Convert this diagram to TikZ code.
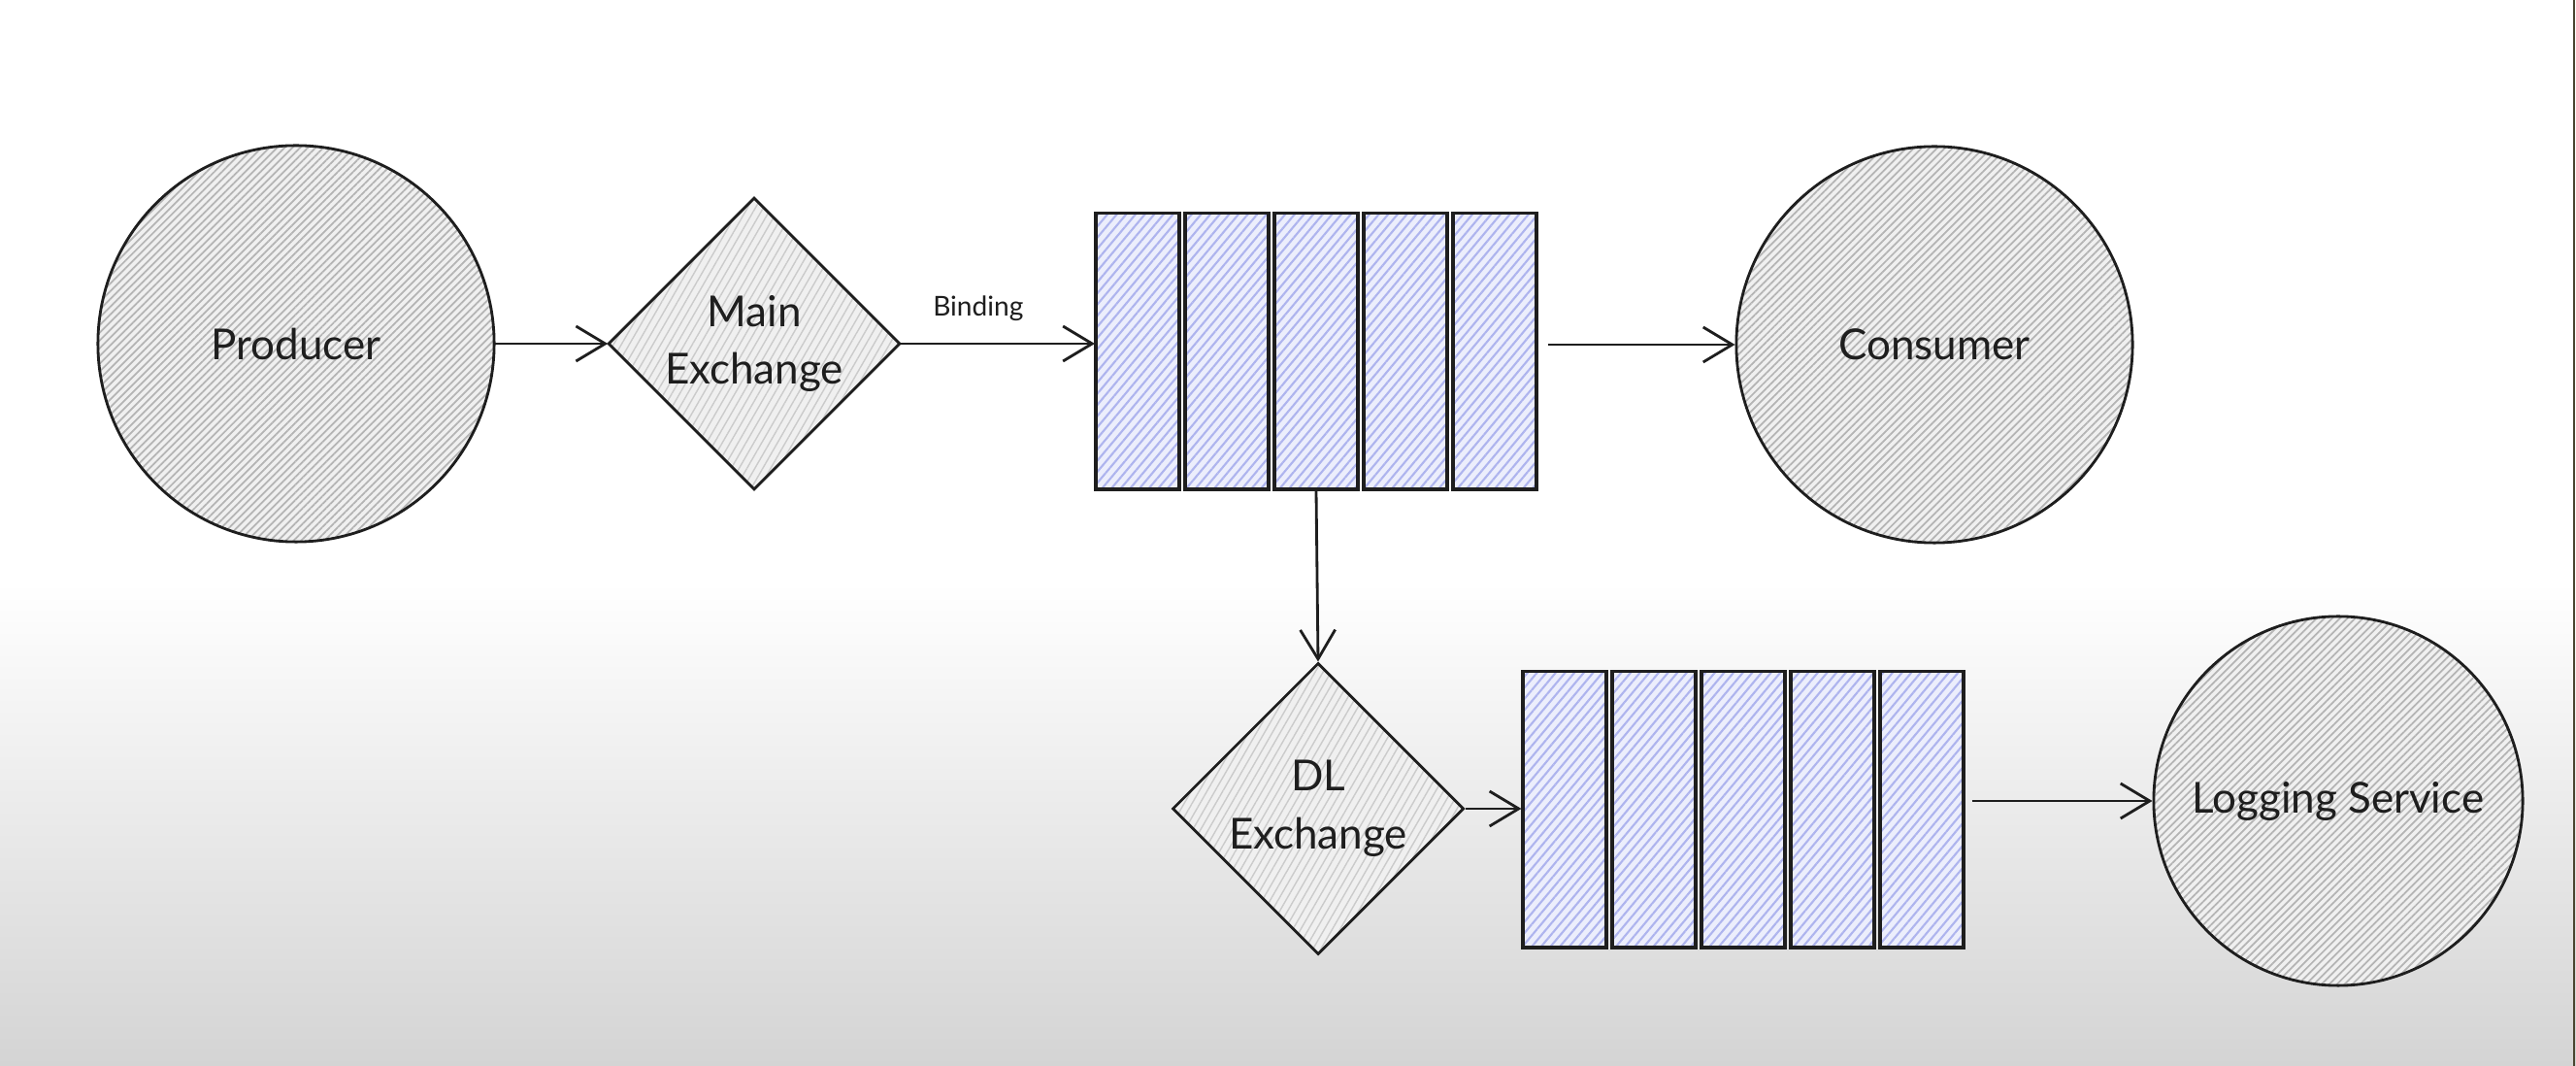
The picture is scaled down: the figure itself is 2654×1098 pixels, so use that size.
\documentclass[tikz,border=0pt]{standalone}
\usepackage{fontspec}
\setmainfont{Lato}
\usepackage{tikz}
\usetikzlibrary{arrows.meta,positioning,shapes.geometric,patterns.meta}

\definecolor{ink}{HTML}{1E1E1E}
\definecolor{circfill}{HTML}{F0F0F0}
\definecolor{circhatch}{HTML}{B4B4B4}
\definecolor{barfill}{HTML}{ECEEFC}
\definecolor{barhatch}{HTML}{AEB4EE}
\definecolor{bgbot}{HTML}{D4D4D4}
\definecolor{edgeline}{HTML}{4A4530}

\begin{document}
\begin{tikzpicture}[x=0.01cm, y=-0.01cm,
          actor/.style={circle, draw=ink, line width=0.8pt, minimum size=4.08cm, inner sep=0pt,
                        font=\fontsize{12.5}{14}\selectfont, text=ink,
                        preaction={fill=circfill},
                        pattern={Lines[angle=45, distance=1.6pt, line width=0.5pt]}, pattern color=circhatch},
          exch/.style={diamond, aspect=1, draw=ink, line width=0.8pt, minimum width=3cm, minimum height=3cm,
                       inner sep=0pt, align=center, font=\fontsize{12.5}{17}\selectfont, text=ink,
                       preaction={fill=circfill},
                       pattern={Lines[angle=60, distance=2pt, line width=0.4pt]}, pattern color=circhatch!70},
          qbar/.style={rectangle, draw=ink, line width=0.9pt, minimum width=0.86cm, minimum height=2.84cm,
                       inner sep=0pt, preaction={fill=barfill},
                       pattern={Lines[angle=50, distance=2.1pt, line width=0.6pt]}, pattern color=barhatch},
          flow/.style={ink, line width=0.8pt, -{Straight Barb[length=3mm, width=3.6mm, line width=0.8pt]}},
          lbl/.style={text=ink, font=\fontsize{8}{10}\selectfont}
        ]
          % Hintergrund
          \useasboundingbox (0,0) rectangle (2654,1098);
          \fill[white] (0,0) rectangle (2654,1098);
          \shade[top color=white, bottom color=bgbot] (0,600) rectangle (2654,1098);
          \draw[edgeline, line width=0.8pt] (2652,0) -- (2652,1098);

          % Produzent und Main Exchange
          \node[actor] (producer) at (305,354) {Producer};
          \node[exch] (mainx) at (777,354) {Main\\Exchange};

          % Queue 1
          \foreach \i in {1,...,5}
            \node[qbar] (qa\i) at ({1172+(\i-1)*92},362) {};

          % Consumer
          \node[actor] (consumer) at (1993,355) {Consumer};

          % DL Exchange und Queue 2
          \node[exch] (dlx) at (1358,833) {DL\\Exchange};
          \foreach \i in {1,...,5}
            \node[qbar] (qb\i) at ({1612+(\i-1)*92},834) {};

          % Logging
          \node[actor, minimum size=3.8cm] (logging) at (2409,825) {Logging Service};

          % Verbindungen
          \draw[flow] (producer) -- (mainx);
          \draw[flow] (mainx.east) -- node[lbl, above=3pt, pos=0.4] {Binding} (mainx.east -| qa1.west);
          \draw[flow] ([xshift=3pt]qa5.east |- consumer.west) -- (consumer.west);
          \draw[flow] (qa3.south) -- (dlx.north);
          \draw[flow] (dlx.east) -- (dlx.east -| qb1.west);
          \draw[flow] ([xshift=2pt]qb5.east |- logging.west) -- (logging.west);
        \end{tikzpicture}
\end{document}
